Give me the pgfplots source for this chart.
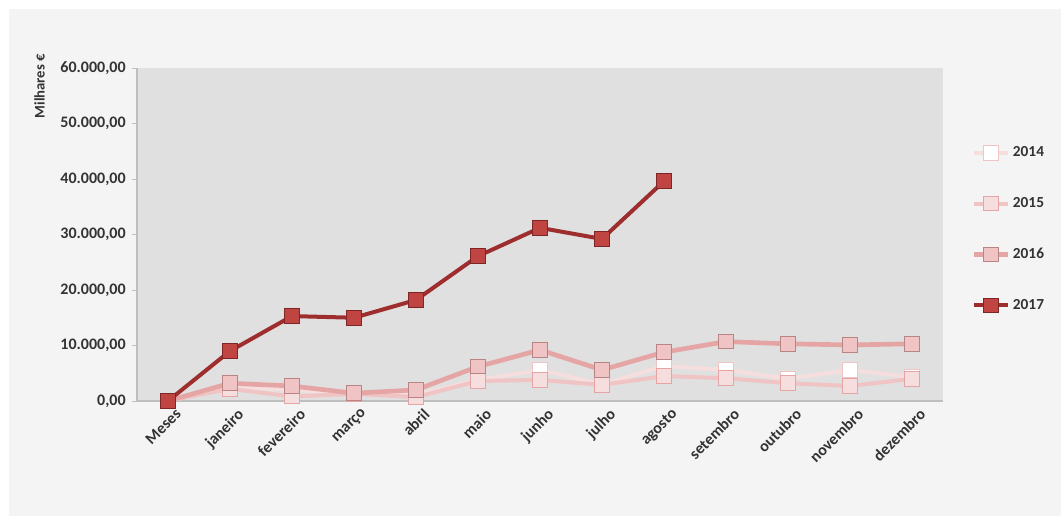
\documentclass[border=0pt]{standalone}
\usepackage{pgfplots}
\pgfplotsset{compat=1.18}
\usepackage{fontspec}
\setmainfont{Carlito}

\definecolor{panel}{RGB}{244,244,244}
\definecolor{plotbg}{RGB}{224,224,224}
\definecolor{axgray}{RGB}{190,190,190}
\definecolor{c14}{RGB}{246,222,222}
\definecolor{c15}{RGB}{240,196,196}
\definecolor{c16}{RGB}{230,165,165}
\definecolor{c17}{RGB}{158,46,46}
\definecolor{m17}{RGB}{192,68,66}

\begin{document}
\begin{tikzpicture}
% page frame, 1px = 0.75pt
\fill[white] (0,0) rectangle (795.75pt,387pt);
\fill[panel] (6.75pt,0) rectangle (795.75pt,380.25pt);
\useasboundingbox (0,0) rectangle (795.75pt,387pt);

\begin{axis}[
    at={(102.75pt,86.25pt)}, anchor=south west,
    scale only axis, width=604.5pt, height=249.75pt,
    axis background/.style={fill=plotbg},
    axis x line*=bottom, axis y line*=left,
    axis line style={draw=axgray, line width=0.8pt, -},
    xmin=-0.5, xmax=12.5, ymin=0, ymax=60000,
    xtick={0,...,12},
    xticklabels={Meses,janeiro,fevereiro,março,abril,maio,junho,julho,agosto,setembro,outubro,novembro,dezembro},
    major x tick style={draw=none},
    extra x ticks={-0.5,0.5,...,12.5}, extra x tick labels={},
    extra x tick style={tick style={draw=axgray}, major tick length=4pt, tick align=outside},
    ytick={0,10000,...,60000},
    ytick style={draw=axgray}, major tick length=4pt, tick align=outside,
    scaled y ticks=false,
    /pgf/number format/fixed, /pgf/number format/fixed zerofill,
    /pgf/number format/precision=2, /pgf/number format/use comma,
    /pgf/number format/1000 sep={.}, /pgf/number format/assume math mode=true,
    ticklabel style={font=\fontsize{12}{14}\selectfont\bfseries, text=black!80},
    xticklabel style={rotate=45, anchor=north east, inner sep=1pt, xshift=4pt, yshift=-3pt},
    yticklabel style={xshift=-1pt},
    legend style={draw=none, fill=none, at={(rel axis cs:1.03,0.78)}, anchor=north west,
        font=\fontsize{11.5}{13}\selectfont\bfseries, row sep=25pt, text=black!80},
    legend cell align=left,
    legend image code/.code={\draw[mark repeat=2,mark phase=2] plot coordinates {(0cm,0cm) (0.45cm,0cm) (0.9cm,0cm)};},
    every axis plot/.append style={mark=square*, mark size=5.5pt},
]
\addplot[c14, line width=3pt, mark options={fill=white, draw=c15, line width=0.8pt}] coordinates {
(0,0) (1,2600) (2,2000) (3,1400) (4,1100) (5,3800) (6,5600) (7,3000) (8,6300) (9,5600) (10,4000) (11,5600) (12,4300)};
\addplot[c15, line width=3pt, mark options={fill=c14, draw=c16, line width=0.8pt}] coordinates {
(0,0) (1,2200) (2,800) (3,1300) (4,700) (5,3600) (6,3800) (7,2900) (8,4500) (9,4100) (10,3200) (11,2700) (12,4000)};
\addplot[c16, line width=3.5pt, mark options={fill=c15, draw=c16!80!black, line width=0.8pt}] coordinates {
(0,0) (1,3200) (2,2700) (3,1400) (4,2000) (5,6200) (6,9200) (7,5600) (8,8800) (9,10700) (10,10300) (11,10100) (12,10300)};
\addplot[c17, line width=3pt, mark options={fill=m17, draw=c17!80!black, line width=0.8pt}] coordinates {
(0,0) (1,9000) (2,15300) (3,15000) (4,18200) (5,26100) (6,31200) (7,29200) (8,39600)};
\legend{2014,2015,2016,2017}
\end{axis}

\node[rotate=90, anchor=south east, font=\fontsize{11}{13}\selectfont\bfseries, text=black!80, inner sep=0pt]
  at (33.75pt,346.5pt) {Milhares €};
\end{tikzpicture}
\end{document}
